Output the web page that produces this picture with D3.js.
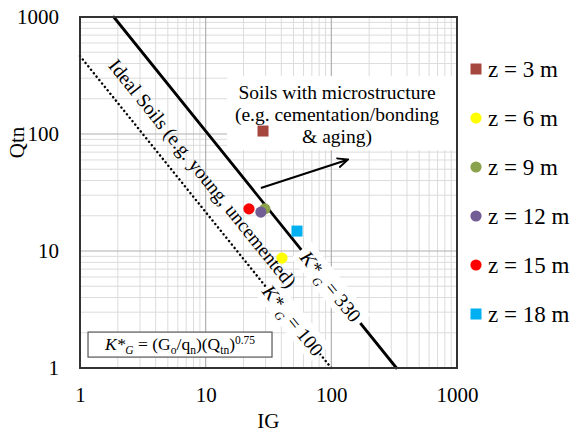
<!DOCTYPE html>
<html>
<head>
<meta charset="utf-8">
<script src="https://cdn.jsdelivr.net/npm/d3@7"></script>
<style>
  body { margin: 0; background: #fff; }
  svg { display: block; font-family: "Liberation Serif", "Times New Roman", serif; }
</style>
</head>
<body>
<div id="chart"></div>
<script>
// depth series
const depths = ['z = 3 m', 'z = 6 m', 'z = 9 m', 'z = 12 m', 'z = 15 m', 'z = 18 m'];
const igValues = [28.6, 40.5, 29.6, 27.5, 22.1, 53.3];
const qtnValues = [106, 8.7, 22.9, 21.5, 22.9, 14.8];
const markerShapes = ['square', 'circle', 'circle', 'circle', 'circle', 'square'];
const markerColours = ['#a5473f', '#ffff00', '#8ba24d', '#725d94', '#ff0000', '#00b0f0'];

// K*G boundary lines
const kgValues = [330, 100];
const tickValues = [1, 10, 100, 1000];

const width = 572;
const height = 434;
const margin = { top: 17, right: 115, bottom: 66, left: 80 };

const svg = d3.select('#chart').append('svg')
  .attr('width', width)
  .attr('height', height);

const x = d3.scaleLog().domain([1, 1000]).range([margin.left, width - margin.right]);
const y = d3.scaleLog().domain([1, 1000]).range([height - margin.bottom, margin.top]);

// grid: minor first, major on top
const minor = [];
[1, 10, 100].forEach((d) => { for (let i = 2; i <= 9; i++) minor.push(d * i); });
const major = [10, 100];

const grid = svg.append('g');
grid.selectAll('.vminor').data(minor).join('line')
  .attr('x1', (d) => x(d)).attr('x2', (d) => x(d))
  .attr('y1', y(1)).attr('y2', y(1000))
  .attr('stroke', '#dcdcdc').attr('stroke-width', 1);
grid.selectAll('.hminor').data(minor).join('line')
  .attr('y1', (d) => y(d)).attr('y2', (d) => y(d))
  .attr('x1', x(1)).attr('x2', x(1000))
  .attr('stroke', '#dcdcdc').attr('stroke-width', 1);
grid.selectAll('.vmajor').data(major).join('line')
  .attr('x1', (d) => x(d)).attr('x2', (d) => x(d))
  .attr('y1', y(1)).attr('y2', y(1000))
  .attr('stroke', '#b0b0b0').attr('stroke-width', 1.2);
grid.selectAll('.hmajor').data(major).join('line')
  .attr('y1', (d) => y(d)).attr('y2', (d) => y(d))
  .attr('x1', x(1)).attr('x2', x(1000))
  .attr('stroke', '#b0b0b0').attr('stroke-width', 1.2);

// K*G = IG * Qtn^0.75  ->  Qtn = (K/IG)^(4/3)
const qOf = (k, ig) => Math.pow(k / ig, 4 / 3);
const igOf = (k, q) => k / Math.pow(q, 0.75);

const lineGen = d3.line().x((d) => x(d[0])).y((d) => y(d[1]));
kgValues.forEach((k, i) => {
  const ig0 = Math.max(1, igOf(k, 1000));
  const ig1 = igOf(k, 1);
  svg.append('path')
    .attr('d', lineGen([[ig0, qOf(k, ig0)], [ig1, qOf(k, ig1)]]))
    .attr('fill', 'none')
    .attr('stroke', '#000')
    .attr('stroke-width', i === 0 ? 2.8 : 2.4)
    .attr('stroke-linecap', 'round')
    .attr('stroke-dasharray', i === 0 ? null : '0.1 4.3');
});

// slope angle of the lines on screen
const angle = Math.atan2(y(qOf(330, 100)) - y(qOf(330, 10)), x(100) - x(10)) * 180 / Math.PI;

// labels sitting on the lines, with white backing
function kgLabel (k, ig, boxW) {
  const cx = x(ig), cy = y(qOf(k, ig));
  const g = svg.append('g').attr('transform', `translate(${cx},${cy}) rotate(${angle})`);
  g.append('rect').attr('x', -boxW / 2).attr('y', -13).attr('width', boxW).attr('height', 26).attr('fill', '#fff');
  const t = g.append('text').attr('text-anchor', 'middle').attr('dy', '0.35em').attr('font-size', 19.5);
  t.append('tspan').attr('font-style', 'italic').text('K*');
  t.append('tspan').attr('font-style', 'italic').attr('font-size', 12).attr('dy', 5).text(' G');
  t.append('tspan').attr('dy', -5).text(` = ${k}`);
}
kgLabel(330, 99, 94);
kgLabel(100, 49.5, 86);

// "Ideal Soils" text between the two lines
svg.append('text')
  .attr('transform', `translate(${x(8.5) + 6},${y(47) + 1}) rotate(${angle})`)
  .attr('text-anchor', 'middle')
  .attr('dy', '0.35em')
  .attr('font-size', 19.5)
  .text('Ideal Soils (e.g. young, uncemented)');

// microstructure annotation box
const noteX = x(111), noteY = y(145);
svg.append('rect')
  .attr('x', noteX - 110).attr('y', noteY - 39)
  .attr('width', 229).attr('height', 74)
  .attr('fill', '#fff');
const note = svg.append('text')
  .attr('text-anchor', 'middle')
  .attr('font-size', 19.5);
['Soils with microstructure', '(e.g. cementation/bonding', '& aging)'].forEach((s, i) => {
  note.append('tspan').attr('x', noteX).attr('y', noteY - 16 + i * 22).text(s);
});

// arrow
svg.append('defs').append('marker')
  .attr('id', 'arrow')
  .attr('viewBox', '0 0 10 10')
  .attr('refX', 8).attr('refY', 5)
  .attr('markerWidth', 6).attr('markerHeight', 6)
  .attr('orient', 'auto')
  .append('path').attr('d', 'M0,1 L9,5 L0,9').attr('fill', 'none').attr('stroke', '#000').attr('stroke-width', 1.6);
svg.append('line')
  .attr('x1', x(27.5)).attr('y1', y(34.5))
  .attr('x2', x(133)).attr('y2', y(60))
  .attr('stroke', '#000').attr('stroke-width', 2)
  .attr('marker-end', 'url(#arrow)');

// formula box
const fx = x(6.25), fy = y(1.57);
svg.append('rect')
  .attr('x', fx - 92).attr('y', fy - 13)
  .attr('width', 184).attr('height', 25)
  .attr('fill', '#fff').attr('stroke', '#555').attr('stroke-width', 1.2);
const ft = svg.append('text').attr('x', fx).attr('y', fy + 5).attr('text-anchor', 'middle').attr('font-size', 17.5);
ft.append('tspan').attr('font-style', 'italic').text('K*');
ft.append('tspan').attr('font-style', 'italic').attr('font-size', 11.5).attr('dy', 4).text('G');
ft.append('tspan').attr('dy', -4).text(' = (G');
ft.append('tspan').attr('font-size', 11.5).attr('dy', 4).text('o');
ft.append('tspan').attr('dy', -4).text('/q');
ft.append('tspan').attr('font-size', 11.5).attr('dy', 4).text('n');
ft.append('tspan').attr('dy', -4).text(')(Q');
ft.append('tspan').attr('font-size', 11.5).attr('dy', 4).text('tn');
ft.append('tspan').attr('dy', -4).text(')');
ft.append('tspan').attr('font-size', 11.5).attr('dy', -6).text('0.75');

// data points
const points = depths.map((d, i) => ({ name: d, ig: igValues[i], q: qtnValues[i], shape: markerShapes[i], colour: markerColours[i] }));
function drawMarker (sel, shape, colour) {
  if (shape === 'square') {
    sel.append('rect').attr('x', -5.5).attr('y', -5.5).attr('width', 11).attr('height', 11).attr('fill', colour);
  } else {
    sel.append('circle').attr('r', 5.6).attr('fill', colour);
  }
}
points.forEach((p) => {
  const g = svg.append('g').attr('transform', `translate(${x(p.ig)},${y(p.q)})`);
  drawMarker(g, p.shape, p.colour);
});

// frame
svg.append('rect')
  .attr('x', x(1)).attr('y', y(1000))
  .attr('width', x(1000) - x(1)).attr('height', y(1) - y(1000))
  .attr('fill', 'none').attr('stroke', '#333').attr('stroke-width', 2);

// axes
const fmt = d3.format('d');
const xAxis = svg.append('g')
  .attr('transform', `translate(0,${y(1)})`)
  .call(d3.axisBottom(x).tickValues(tickValues).tickFormat(fmt).tickSize(0).tickPadding(19));
const yAxis = svg.append('g')
  .attr('transform', `translate(${x(1)},0)`)
  .call(d3.axisLeft(y).tickValues(tickValues).tickFormat(fmt).tickSize(0).tickPadding(21));
[xAxis, yAxis].forEach((a) => {
  a.select('.domain').remove();
  a.selectAll('text').attr('font-family', '"Liberation Serif", serif').attr('font-size', 21).attr('fill', '#000');
});

svg.append('text')
  .attr('x', x(31.6)).attr('y', 428)
  .attr('text-anchor', 'middle').attr('font-size', 21)
  .text('IG');
svg.append('text')
  .attr('transform', `translate(24,${y(31.6) - 50}) rotate(-90)`)
  .attr('text-anchor', 'middle').attr('font-size', 21)
  .text('Qtn');

// legend
const legend = svg.append('g').attr('transform', 'translate(476,69)');
points.forEach((p, i) => {
  const g = legend.append('g').attr('transform', `translate(0,${i * 49})`);
  drawMarker(g, p.shape, p.colour);
  g.append('text').attr('x', 12).attr('dy', '0.35em').attr('font-size', 23).text(p.name);
});
</script>
</body>
</html>
